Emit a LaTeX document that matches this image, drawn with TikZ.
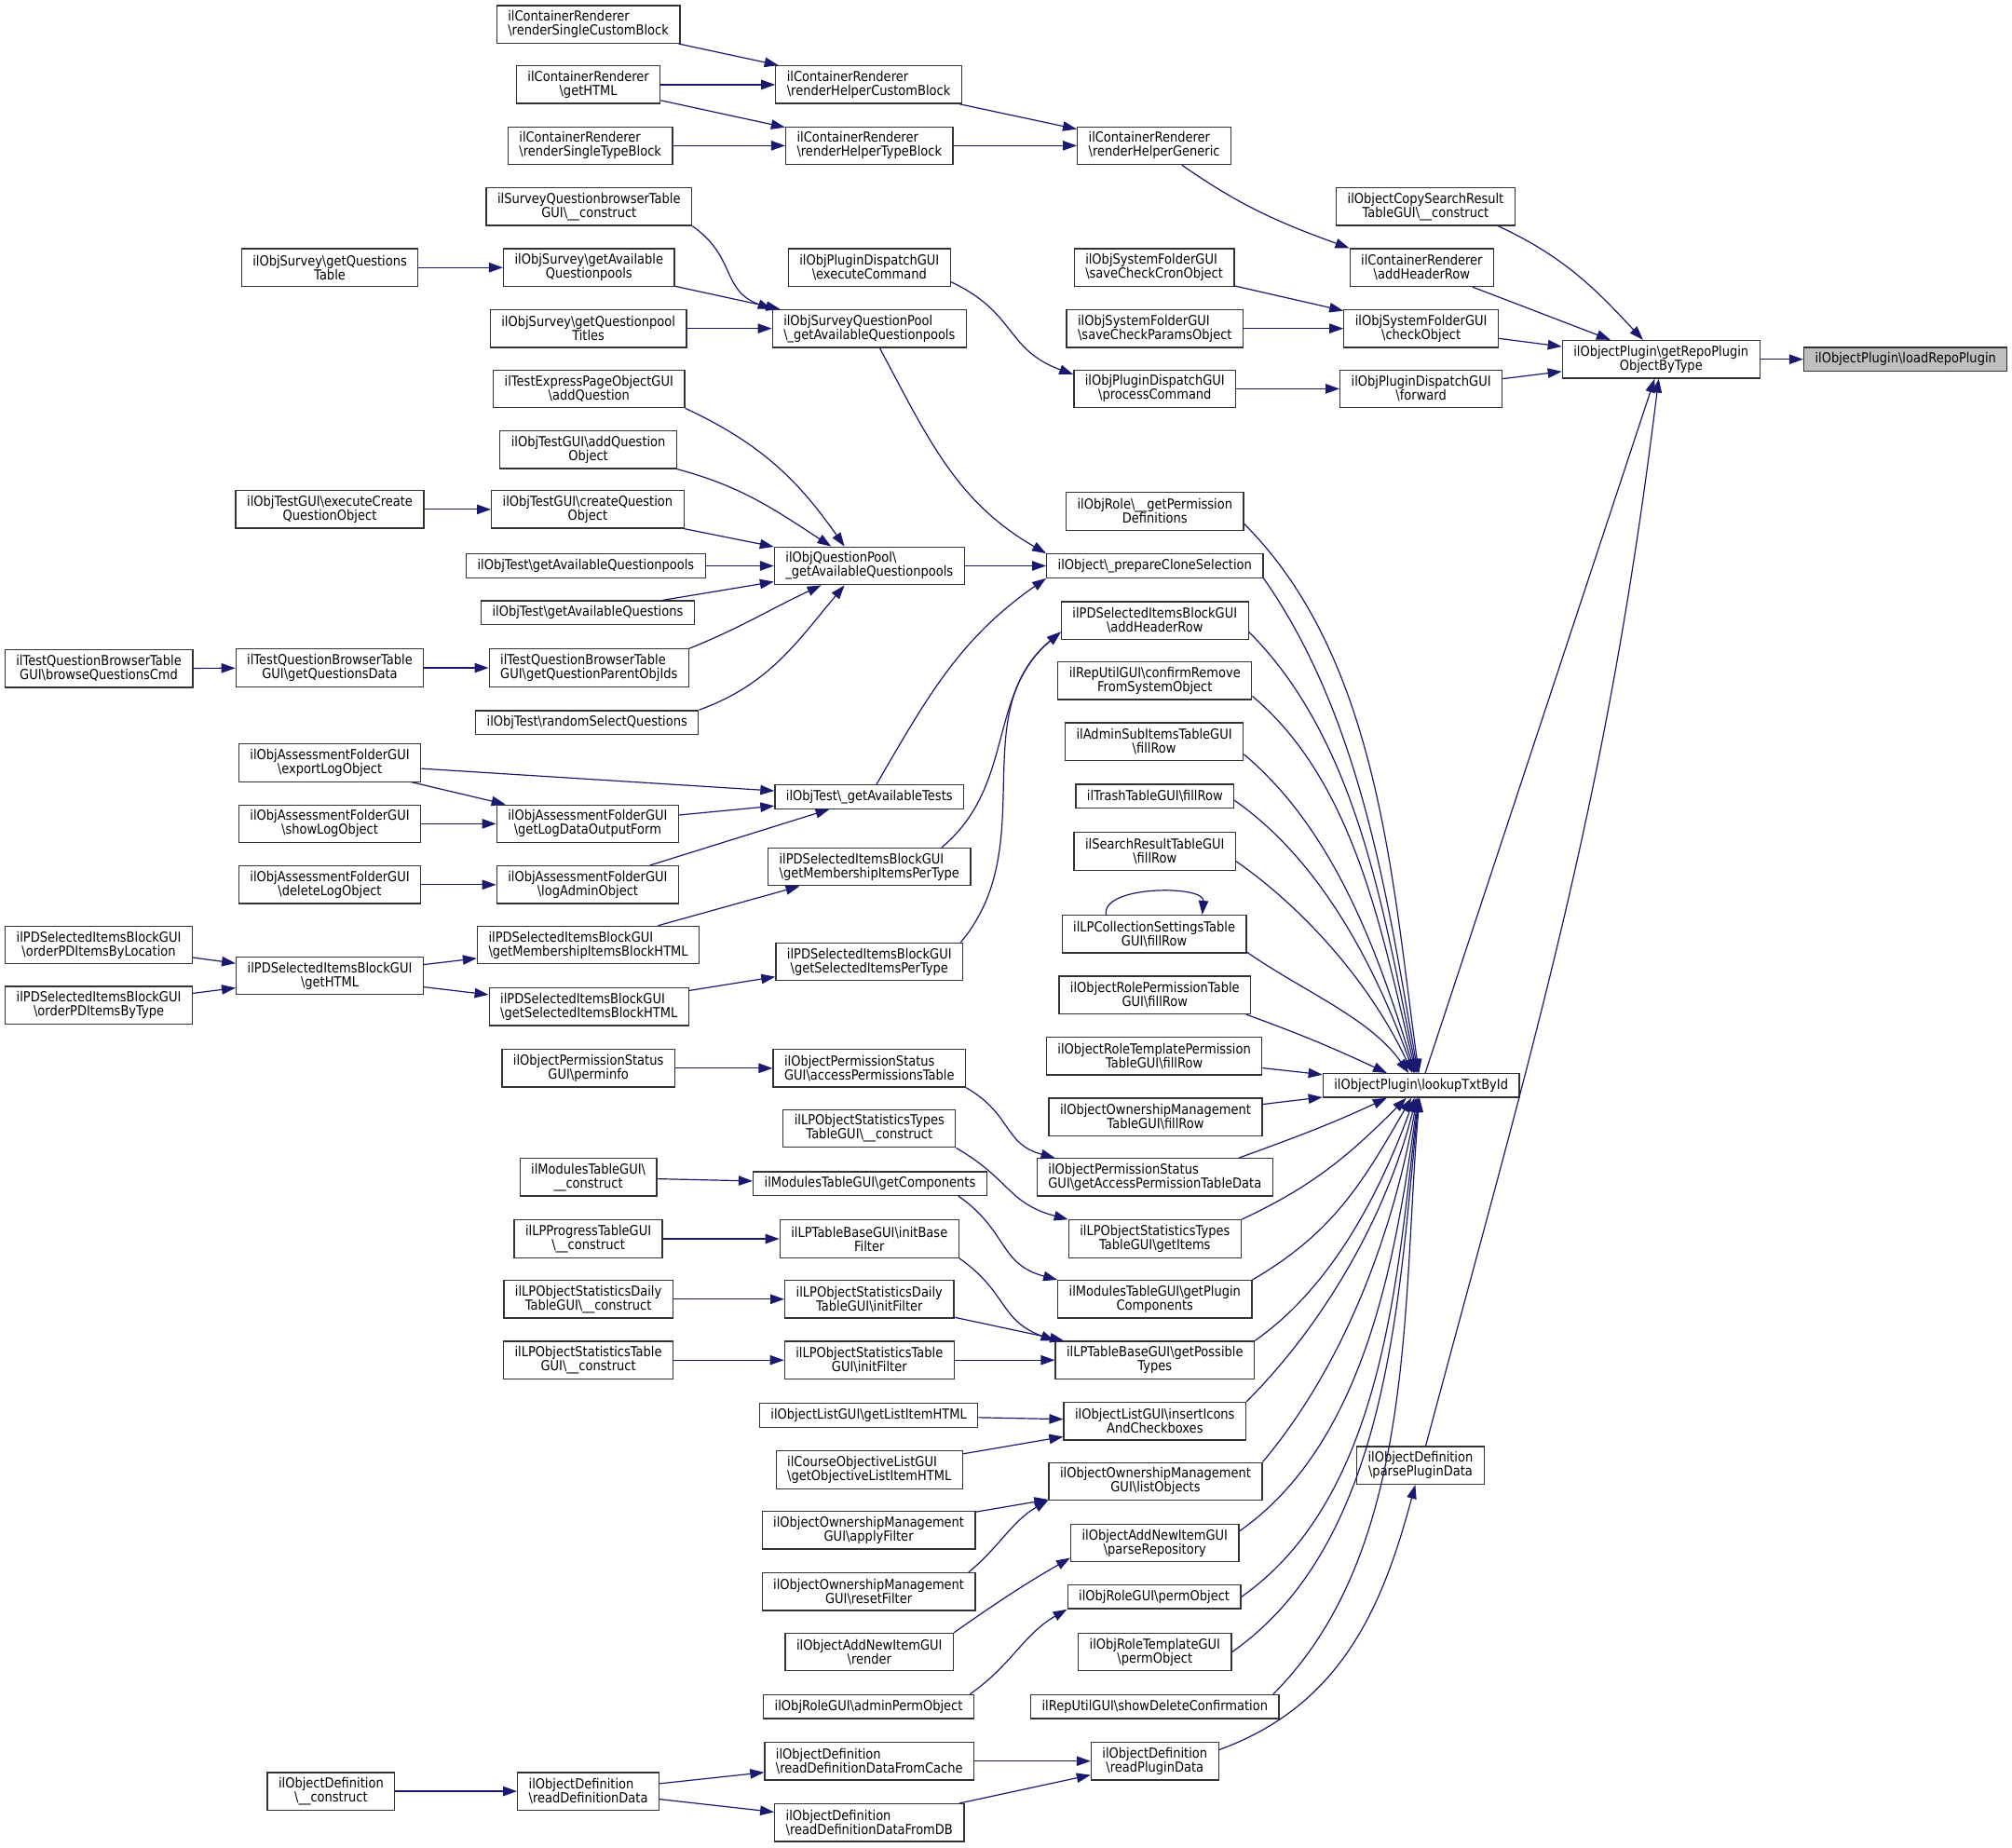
\documentclass[tikz,border=0pt]{standalone}
\usepackage{fontspec}
\setmainfont{DejaVu Sans}[FakeStretch=0.88]
\usepackage{tikz}
\usetikzlibrary{arrows.meta}
\definecolor{edgeblue}{HTML}{191970}
\newcommand{\bksl}{\textbackslash}

\begin{document}
\begin{tikzpicture}[x=0.6888pt, y=-0.6888pt,
  fn/.style={draw=black!80, line width=0.65pt, fill=white, align=center,
    inner xsep=6pt, inner ysep=1pt, minimum height=12.7pt,
    font=\fontsize{7.4}{7.5}\selectfont},
  fn2/.style={fn, minimum height=20.2pt},
  call/.style={draw=edgeblue, line width=0.6pt, -{Triangle[length=7.5pt,width=5.2pt]}}]
\useasboundingbox (0,0) rectangle (1568,1440);

% first column
\node[fn2] (tqbBrowse) at (77,521) {ilTestQuestionBrowserTable\\GUI\bksl{}browseQuestionsCmd};
\node[fn2] (pdOrderLoc) at (77,736.5) {ilPDSelectedItemsBlockGUI\\\bksl{}orderPDItemsByLocation};
\node[fn2] (pdOrderType) at (77,783.5) {ilPDSelectedItemsBlockGUI\\\bksl{}orderPDItemsByType};

% second column
\node[fn2] (svGetQTable) at (257,208.5) {ilObjSurvey\bksl{}getQuestions\\Table};
\node[fn2] (tgExecCreate) at (257,397) {ilObjTestGUI\bksl{}executeCreate\\QuestionObject};
\node[fn2] (tqbGetData) at (257,520.5) {ilTestQuestionBrowserTable\\GUI\bksl{}getQuestionsData};
\node[fn2] (afExport) at (257,594.5) {ilObjAssessmentFolderGUI\\\bksl{}exportLogObject};
\node[fn2] (afShow) at (257,642) {ilObjAssessmentFolderGUI\\\bksl{}showLogObject};
\node[fn2] (afDelete) at (257,689.5) {ilObjAssessmentFolderGUI\\\bksl{}deleteLogObject};
\node[fn2] (pdGetHTML) at (257,760.5) {ilPDSelectedItemsBlockGUI\\\bksl{}getHTML};
\node[fn2] (odConstruct) at (258,1396) {ilObjectDefinition\\\bksl{}\_\_construct};

% third column
\node[fn2,align=left] (crSingleCustom) at (458.5,19) {ilContainerRenderer\\\bksl{}renderSingleCustomBlock};
\node[fn2] (crGetHTML) at (458.5,66) {ilContainerRenderer\\\bksl{}getHTML};
\node[fn2,align=left] (crSingleType) at (460,113.5) {ilContainerRenderer\\\bksl{}renderSingleTypeBlock};
\node[fn2] (sqbConstruct) at (459,161) {ilSurveyQuestionbrowserTable\\GUI\bksl{}\_\_construct};
\node[fn2] (svGetAvail) at (459,208.5) {ilObjSurvey\bksl{}getAvailable\\Questionpools};
\node[fn2] (svGetTitles) at (458.5,256) {ilObjSurvey\bksl{}getQuestionpool\\Titles};
\node[fn2] (teAddQuestion) at (459,303) {ilTestExpressPageObjectGUI\\\bksl{}addQuestion};
\node[fn2] (tgAddQObj) at (458.5,350.5) {ilObjTestGUI\bksl{}addQuestion\\Object};
\node[fn2] (tgCreateQObj) at (458,397) {ilObjTestGUI\bksl{}createQuestion\\Object};
\node[fn] (otGetAvailQP) at (456.5,441) {ilObjTest\bksl{}getAvailableQuestionpools};
\node[fn] (otGetAvailQ) at (458,477.5) {ilObjTest\bksl{}getAvailableQuestions};
\node[fn2,align=left] (tqbParentIds) at (459,520.5) {ilTestQuestionBrowserTable\\GUI\bksl{}getQuestionParentObjIds};
\node[fn] (otRandom) at (457.5,563) {ilObjTest\bksl{}randomSelectQuestions};
\node[fn2] (afGetLogData) at (458,642) {ilObjAssessmentFolderGUI\\\bksl{}getLogDataOutputForm};
\node[fn2] (afLogAdmin) at (458,689.5) {ilObjAssessmentFolderGUI\\\bksl{}logAdminObject};
\node[fn2,align=left] (pdMembBlock) at (458.5,736.5) {ilPDSelectedItemsBlockGUI\\\bksl{}getMembershipItemsBlockHTML};
\node[fn2,align=left] (pdSelBlock) at (459,784.5) {ilPDSelectedItemsBlockGUI\\\bksl{}getSelectedItemsBlockHTML};
\node[fn2] (psPerminfo) at (458.5,832.5) {ilObjectPermissionStatus\\GUI\bksl{}perminfo};
\node[fn2] (mtConstruct) at (458.5,917.5) {ilModulesTableGUI\bksl{}\\\_\_construct};
\node[fn2] (lpProgConstruct) at (458.5,965.5) {ilLPProgressTableGUI\\\bksl{}\_\_construct};
\node[fn2] (lpDailyConstruct) at (458.5,1012.5) {ilLPObjectStatisticsDaily\\TableGUI\bksl{}\_\_construct};
\node[fn2] (lpStatConstruct) at (458.5,1060) {ilLPObjectStatisticsTable\\GUI\bksl{}\_\_construct};
\node[fn2,align=left] (odReadDefData) at (458.5,1396) {ilObjectDefinition\\\bksl{}readDefinitionData};

% fourth column
\node[fn2,align=left] (crHelperCustom) at (677,66) {ilContainerRenderer\\\bksl{}renderHelperCustomBlock};
\node[fn2,align=left] (crHelperType) at (677.5,113.5) {ilContainerRenderer\\\bksl{}renderHelperTypeBlock};
\node[fn2] (pdExecCmd) at (677.5,208.5) {ilObjPluginDispatchGUI\\\bksl{}executeCommand};
\node[fn2,align=left] (sqpGetAvail) at (677.5,256) {ilObjSurveyQuestionPool\\\bksl{}\_getAvailableQuestionpools};
\node[fn2,align=left] (qpGetAvail) at (677.5,441) {ilObjQuestionPool\bksl{}\\\_getAvailableQuestionpools};
\node[fn] (otGetAvailTests) at (677.5,621) {ilObjTest\bksl{}\_getAvailableTests};
\node[fn2,align=left] (pdMembPerType) at (677.5,675.5) {ilPDSelectedItemsBlockGUI\\\bksl{}getMembershipItemsPerType};
\node[fn2] (pdSelPerType) at (677.5,749.5) {ilPDSelectedItemsBlockGUI\\\bksl{}getSelectedItemsPerType};
\node[fn2,align=left] (psAccessTable) at (677.5,832.5) {ilObjectPermissionStatus\\GUI\bksl{}accessPermissionsTable};
\node[fn2] (lpTypesConstruct) at (677.5,879.5) {ilLPObjectStatisticsTypes\\TableGUI\bksl{}\_\_construct};
\node[fn] (mtGetComponents) at (678,922.5) {ilModulesTableGUI\bksl{}getComponents};
\node[fn2] (lpInitBase) at (677.5,965.5) {ilLPTableBaseGUI\bksl{}initBase\\Filter};
\node[fn2] (lpDailyInit) at (677.5,1012.5) {ilLPObjectStatisticsDaily\\TableGUI\bksl{}initFilter};
\node[fn2] (lpStatInit) at (677.5,1060) {ilLPObjectStatisticsTable\\GUI\bksl{}initFilter};
\node[fn] (olGetListItem) at (677,1103) {ilObjectListGUI\bksl{}getListItemHTML};
\node[fn2,align=left] (coGetObjective) at (677.5,1145.5) {ilCourseObjectiveListGUI\\\bksl{}getObjectiveListItemHTML};
\node[fn2] (omApplyFilter) at (677,1192.5) {ilObjectOwnershipManagement\\GUI\bksl{}applyFilter};
\node[fn2] (omResetFilter) at (677,1240.5) {ilObjectOwnershipManagement\\GUI\bksl{}resetFilter};
\node[fn2] (aniRender) at (677.5,1287.5) {ilObjectAddNewItemGUI\\\bksl{}render};
\node[fn] (rgAdminPerm) at (677,1330) {ilObjRoleGUI\bksl{}adminPermObject};
\node[fn2,align=left] (odFromCache) at (677.5,1372.5) {ilObjectDefinition\\\bksl{}readDefinitionDataFromCache};
\node[fn2,align=left] (odFromDB) at (677.5,1420.5) {ilObjectDefinition\\\bksl{}readDefinitionDataFromDB};

% fifth column
\node[fn2,align=left] (crHelperGeneric) at (899.5,113.5) {ilContainerRenderer\\\bksl{}renderHelperGeneric};
\node[fn2,align=left] (sfCronObj) at (899.5,208.5) {ilObjSystemFolderGUI\\\bksl{}saveCheckCronObject};
\node[fn2,align=left] (sfParamsObj) at (900,256) {ilObjSystemFolderGUI\\\bksl{}saveCheckParamsObject};
\node[fn2] (pdProcessCmd) at (900,303) {ilObjPluginDispatchGUI\\\bksl{}processCommand};
\node[fn2] (orGetPermDefs) at (900,398.5) {ilObjRole\bksl{}\_\_getPermission\\Definitions};
\node[fn] (obPrepareClone) at (900,441) {ilObject\bksl{}\_prepareCloneSelection};
\node[fn2] (pdAddHeader) at (900,483.5) {ilPDSelectedItemsBlockGUI\\\bksl{}addHeaderRow};
\node[fn2] (ruConfirmRemove) at (900,530.5) {ilRepUtilGUI\bksl{}confirmRemove\\FromSystemObject};
\node[fn2] (asFillRow) at (899.5,578) {ilAdminSubItemsTableGUI\\\bksl{}fillRow};
\node[fn] (ttFillRow) at (900,620.5) {ilTrashTableGUI\bksl{}fillRow};
\node[fn2] (srFillRow) at (900,663.5) {ilSearchResultTableGUI\\\bksl{}fillRow};
\node[fn2] (lcFillRow) at (899.5,728) {ilLPCollectionSettingsTable\\GUI\bksl{}fillRow};
\node[fn2] (rpFillRow) at (900,775.5) {ilObjectRolePermissionTable\\GUI\bksl{}fillRow};
\node[fn2] (rtpFillRow) at (899.5,823) {ilObjectRoleTemplatePermission\\TableGUI\bksl{}fillRow};
\node[fn2] (omFillRow) at (900.5,870.5) {ilObjectOwnershipManagement\\TableGUI\bksl{}fillRow};
\node[fn2,align=left] (psTableData) at (900,917.5) {ilObjectPermissionStatus\\GUI\bksl{}getAccessPermissionTableData};
\node[fn2] (lpGetItems) at (900,965.5) {ilLPObjectStatisticsTypes\\TableGUI\bksl{}getItems};
\node[fn2] (mtPluginComp) at (900,1012.5) {ilModulesTableGUI\bksl{}getPlugin\\Components};
\node[fn2] (lpPossibleTypes) at (900,1060) {ilLPTableBaseGUI\bksl{}getPossible\\Types};
\node[fn2] (olInsertIcons) at (900,1107.5) {ilObjectListGUI\bksl{}insertIcons\\AndCheckboxes};
\node[fn2] (omListObjects) at (900.5,1154.5) {ilObjectOwnershipManagement\\GUI\bksl{}listObjects};
\node[fn2] (aniParseRepo) at (900,1202.5) {ilObjectAddNewItemGUI\\\bksl{}parseRepository};
\node[fn] (rgPermObject) at (899.5,1244.5) {ilObjRoleGUI\bksl{}permObject};
\node[fn2] (rtgPermObject) at (900,1287.5) {ilObjRoleTemplateGUI\\\bksl{}permObject};
\node[fn] (ruShowDelete) at (900,1330) {ilRepUtilGUI\bksl{}showDeleteConfirmation};
\node[fn2] (odReadPlugin) at (900,1372.5) {ilObjectDefinition\\\bksl{}readPluginData};

% sixth column
\node[fn2] (csConstruct) at (1111,161) {ilObjectCopySearchResult\\TableGUI\bksl{}\_\_construct};
\node[fn2] (crAddHeader) at (1108,208.5) {ilContainerRenderer\\\bksl{}addHeaderRow};
\node[fn2] (sfCheckObj) at (1107.5,256) {ilObjSystemFolderGUI\\\bksl{}checkObject};
\node[fn2] (pdForward) at (1107.5,303) {ilObjPluginDispatchGUI\\\bksl{}forward};
\node[fn] (opLookupTxt) at (1107.5,846) {ilObjectPlugin\bksl{}lookupTxtById};
\node[fn2] (odParsePlugin) at (1107,1142) {ilObjectDefinition\\\bksl{}parsePluginData};

% last two
\node[fn2] (opGetRepo) at (1294.5,280) {ilObjectPlugin\bksl{}getRepoPlugin\\ObjectByType};
\node[fn,fill=black!25] (opLoadRepo) at (1485,280) {ilObjectPlugin\bksl{}loadRepoPlugin};

% container renderer
\draw[call] (crSingleCustom) -- (crHelperCustom);
\draw[call] (crGetHTML) -- (crHelperCustom);
\draw[call] (crGetHTML) -- (crHelperType);
\draw[call] (crSingleType) -- (crHelperType);
\draw[call] (crHelperCustom) -- (crHelperGeneric);
\draw[call] (crHelperType) -- (crHelperGeneric);
\draw[call] (crHelperGeneric) to[out=-35,in=160] (crAddHeader.north west);

% survey
\draw[call] (svGetQTable) -- (svGetAvail);
\draw[call] (svGetAvail) -- (sqpGetAvail);
\draw[call] (svGetTitles) -- (sqpGetAvail);
\draw[call] (sqbConstruct.south east) to[out=-35,in=160,looseness=1.2] (sqpGetAvail.north west);
\draw[call] (sqpGetAvail) to[out=-62,in=150] (obPrepareClone.north west);

% plugin dispatch and system folder
\draw[call] (pdExecCmd.-10) to[out=-25,in=160,looseness=1.2] (pdProcessCmd.170);
\draw[call] (sfCronObj) -- (sfCheckObj);
\draw[call] (sfParamsObj) -- (sfCheckObj);
\draw[call] (pdProcessCmd) -- (pdForward);

% getRepoPluginObjectByType
\draw[call] (csConstruct.-15) to[out=-25,in=133] (opGetRepo);
\draw[call] (crAddHeader) -- (opGetRepo);
\draw[call] (sfCheckObj) -- (opGetRepo);
\draw[call] (pdForward) -- (opGetRepo);
\draw[call] (opLookupTxt) -- (opGetRepo);
\draw[call] (odParsePlugin) to[out=75,in=-97] (opGetRepo);
\draw[call] (opGetRepo) -- (opLoadRepo);

% question pool
\draw[call] (teAddQuestion.south east) to[out=-25,in=125] (qpGetAvail.142);
\draw[call] (tgAddQObj.south east) to[out=-15,in=147] (qpGetAvail.153);
\draw[call] (tgExecCreate) -- (tgCreateQObj);
\draw[call] (tgCreateQObj) -- (qpGetAvail);
\draw[call] (otGetAvailQP) -- (qpGetAvail);
\draw[call] (otGetAvailQ) -- (qpGetAvail);
\draw[call] (tqbParentIds.north east) to[out=22,in=-155] (qpGetAvail.-158);
\draw[call] (otRandom.north east) to[out=20,in=-130] (qpGetAvail.-142);
\draw[call] (tqbBrowse) -- (tqbGetData);
\draw[call] (tqbGetData) -- (tqbParentIds);
\draw[call] (qpGetAvail) -- (obPrepareClone);

% tests
\draw[call] (otGetAvailTests) to[out=60,in=-145] (obPrepareClone.south west);
\draw[call] (afExport) -- (otGetAvailTests);
\draw[call] (afExport) -- (afGetLogData);
\draw[call] (afShow) -- (afGetLogData);
\draw[call] (afGetLogData) -- (otGetAvailTests);
\draw[call] (afDelete) -- (afLogAdmin);
\draw[call] (afLogAdmin) -- (otGetAvailTests);

% selected items block
\draw[call] (pdOrderLoc) -- (pdGetHTML);
\draw[call] (pdOrderType) -- (pdGetHTML);
\draw[call] (pdGetHTML) -- (pdMembBlock);
\draw[call] (pdGetHTML) -- (pdSelBlock);
\draw[call] (pdMembBlock) -- (pdMembPerType);
\draw[call] (pdSelBlock) -- (pdSelPerType);
\draw[call] (pdMembPerType.15) to[out=40,in=-140] (pdAddHeader.-173);
\draw[call] (pdSelPerType.12) to[out=50,in=-140] (pdAddHeader.-173);

% permissions and learning progress
\draw[call] (psPerminfo) -- (psAccessTable);
\draw[call] (psAccessTable.south east) to[out=-30,in=165,looseness=1.2] (psTableData.169);
\draw[call] (lpTypesConstruct.south east) to[out=-30,in=165,looseness=1.2] (lpGetItems.north west);
\draw[call] (mtConstruct) -- (mtGetComponents);
\draw[call] (mtGetComponents.-8) to[out=-35,in=165,looseness=1.2] (mtPluginComp.north west);
\draw[call] (lpProgConstruct) -- (lpInitBase);
\draw[call] (lpInitBase.south east) to[out=-35,in=160,looseness=1.2] (lpPossibleTypes.north west);
\draw[call] (lpDailyConstruct) -- (lpDailyInit);
\draw[call] (lpDailyInit) -- (lpPossibleTypes);
\draw[call] (lpStatConstruct) -- (lpStatInit);
\draw[call] (lpStatInit) -- (lpPossibleTypes);

% lists, ownership, roles
\draw[call] (olGetListItem) -- (olInsertIcons);
\draw[call] (coGetObjective) -- (olInsertIcons);
\draw[call] (omApplyFilter) -- (omListObjects);
\draw[call] (omResetFilter.11) to[out=40,in=-150] (omListObjects.-170);
\draw[call] (aniRender.north east) to[out=35,in=-150] (aniParseRepo.-170);
\draw[call] (rgAdminPerm.7) to[out=35,in=-150] (rgPermObject.south west);

% object definition
\draw[call] (odConstruct) -- (odReadDefData);
\draw[call] (odReadDefData) -- (odFromCache);
\draw[call] (odReadDefData) -- (odFromDB);
\draw[call] (odFromCache) -- (odReadPlugin);
\draw[call] (odFromDB) -- (odReadPlugin);
\draw[call] (odReadPlugin.10) to[out=20,in=-105] (odParsePlugin);

% recursive call
\draw[call] (lcFillRow.158) to[out=100,in=85,looseness=0.8] (lcFillRow.22);

% lookupTxtById, from above
\draw[call] (orGetPermDefs.-8) to[out=-45,in=98,looseness=0.85] (opLookupTxt.100);
\draw[call] (obPrepareClone.south east) to[out=-55,in=100,looseness=0.85] (opLookupTxt.104);
\draw[call] (pdAddHeader.-7) to[out=-45,in=102,looseness=0.85] (opLookupTxt.108);
\draw[call] (ruConfirmRemove.-9) to[out=-40,in=104,looseness=0.85] (opLookupTxt.112);
\draw[call] (asFillRow.-8) to[out=-40,in=107,looseness=0.85] (opLookupTxt.116);
\draw[call] (ttFillRow.-3) to[out=-35,in=110,looseness=0.85] (opLookupTxt.120);
\draw[call] (srFillRow.-7) to[out=-35,in=115,looseness=0.85] (opLookupTxt.125);
\draw[call] (lcFillRow.-11) to[out=-35,in=125,looseness=0.85] (opLookupTxt.135);
\draw[call] (rpFillRow.-12) to[out=-20,in=155] (opLookupTxt.160);
\draw[call] (rtpFillRow) -- (opLookupTxt);

% lookupTxtById, from below
\draw[call] (omFillRow) -- (opLookupTxt);
\draw[call] (psTableData.13) to[out=20,in=-155] (opLookupTxt.-160);
\draw[call] (lpGetItems.north east) to[out=25,in=-135] (opLookupTxt.-140);
\draw[call] (mtPluginComp.north east) to[out=30,in=-120] (opLookupTxt.-128);
\draw[call] (lpPossibleTypes.north east) to[out=35,in=-110,looseness=0.85] (opLookupTxt.-118);
\draw[call] (olInsertIcons.north east) to[out=45,in=-104,looseness=0.85] (opLookupTxt.-112);
\draw[call] (omListObjects.north east) to[out=50,in=-100,looseness=0.85] (opLookupTxt.-108);
\draw[call] (aniParseRepo.8) to[out=35,in=-98,looseness=0.85] (opLookupTxt.-104);
\draw[call] (rgPermObject.east) to[out=35,in=-97,looseness=0.85] (opLookupTxt.-101);
\draw[call] (rtgPermObject.east) to[out=35,in=-96,looseness=0.85] (opLookupTxt.-99);
\draw[call] (ruShowDelete.6) to[out=45,in=-95,looseness=0.85] (opLookupTxt.-97);

\end{tikzpicture}
\end{document}
